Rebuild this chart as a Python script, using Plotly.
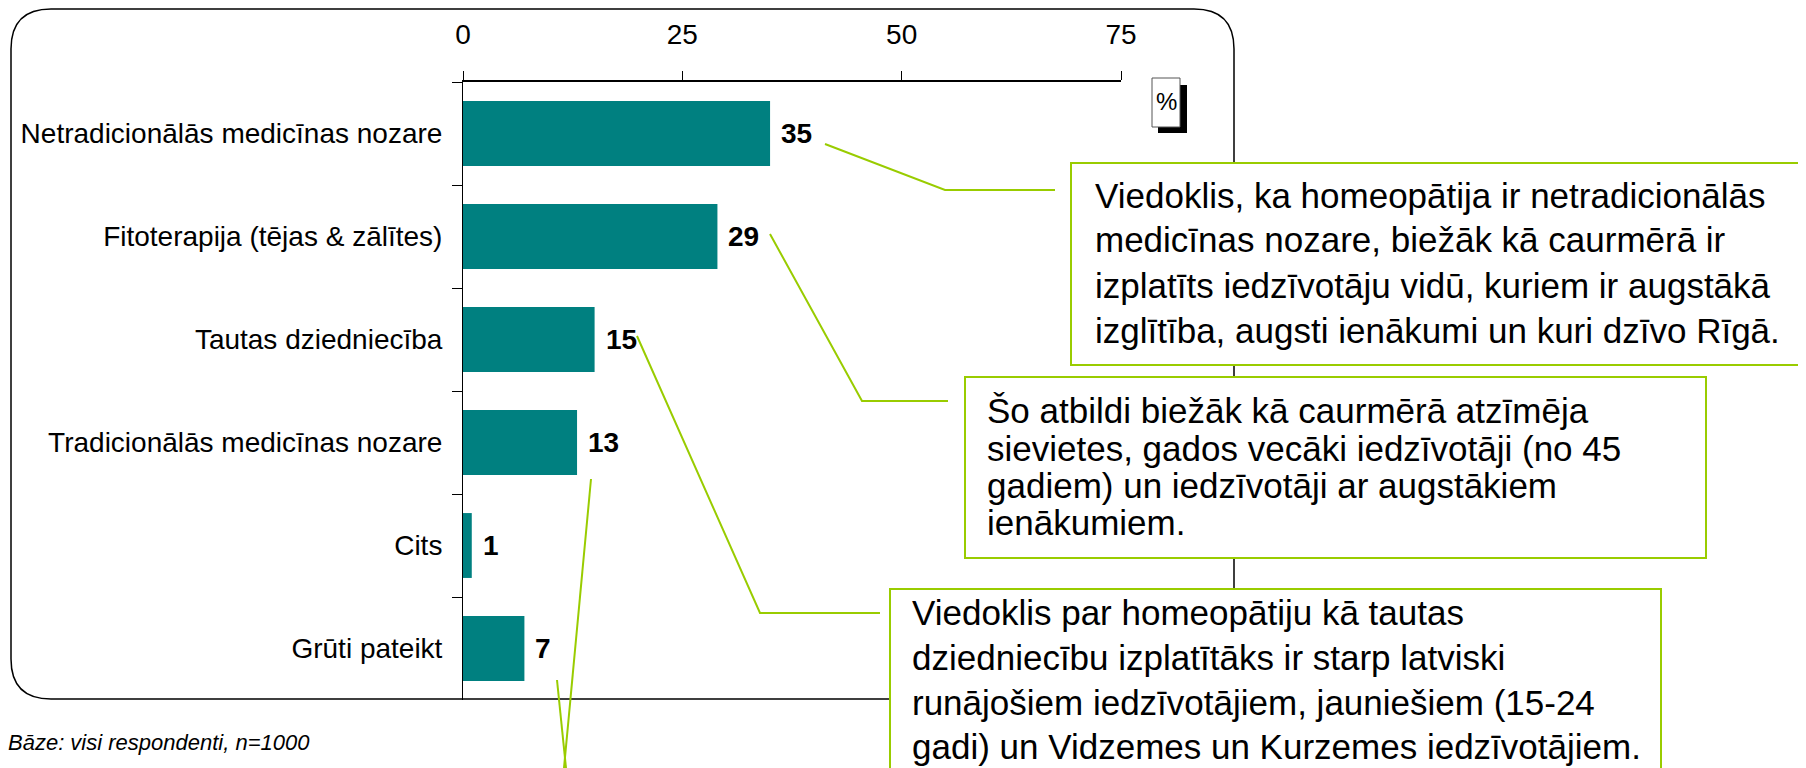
import plotly.graph_objects as go

# data
categories = [
    "Netradicionālās medicīnas nozare",
    "Fitoterapija (tējas & zālītes)",
    "Tautas dziedniecība",
    "Tradicionālās medicīnas nozare",
    "Cits",
    "Grūti pateikt",
]
values = [35, 29, 15, 13, 1, 7]
x_ticks = [0, 25, 50, 75]

note_text = "Bāze: visi respondenti, n=1000"
callout_1 = [
    "Viedoklis, ka homeopātija ir netradicionālās",
    "medicīnas nozare, biežāk kā caurmērā ir",
    "izplatīts iedzīvotāju vidū, kuriem ir augstākā",
    "izglītība, augsti ienākumi un kuri dzīvo Rīgā.",
]
callout_2 = [
    "Šo atbildi biežāk kā caurmērā atzīmēja",
    "sievietes, gados vecāki iedzīvotāji (no 45",
    "gadiem) un iedzīvotāji ar augstākiem",
    "ienākumiem.",
]
callout_3 = [
    "Viedoklis par homeopātiju kā tautas",
    "dziedniecību izplatītāks ir starp latviski",
    "runājošiem iedzīvotājiem, jauniešiem (15-24",
    "gadi) un Vidzemes un Kurzemes iedzīvotājiem.",
]

# page body has an 8px margin, so the figure is a bit smaller than the window
OFF = 8
W, H = 1806 - OFF, 768 - OFF
PL, PR, PT, PB = 463, 1121, 82, 700  # plot area in window pixels

SANS = "Liberation Sans, Arial, sans-serif"
TEAL = "#008080"
LIME = "#99CC00"


def px(x):
    return (x - PL) / (PR - PL)


def py(y):
    return (PB - y) / (PB - PT)


fig = go.Figure()
fig.add_trace(go.Bar(
    x=values, y=categories, orientation="h",
    marker=dict(color=TEAL, line=dict(width=0)),
    hoverinfo="skip", showlegend=False,
))

# value labels
for cat, val in zip(categories, values):
    fig.add_annotation(
        x=val, y=cat, xref="x", yref="y", text="<b>%d</b>" % val,
        showarrow=False, xanchor="left", xshift=9,
        font=dict(family=SANS, size=28, color="black"),
    )

shapes = []

# rounded frame
fx0, fy0, fx1, fy1, r = 11, 9, 1234, 699, 40
frame = (
    f"M {px(fx0 + r)} {py(fy0)} L {px(fx1 - r)} {py(fy0)} "
    f"Q {px(fx1)} {py(fy0)} {px(fx1)} {py(fy0 + r)} "
    f"L {px(fx1)} {py(fy1 - r)} Q {px(fx1)} {py(fy1)} {px(fx1 - r)} {py(fy1)} "
    f"L {px(fx0 + r)} {py(fy1)} Q {px(fx0)} {py(fy1)} {px(fx0)} {py(fy1 - r)} "
    f"L {px(fx0)} {py(fy0 + r)} Q {px(fx0)} {py(fy0)} {px(fx0 + r)} {py(fy0)} Z"
)
shapes.append(dict(type="path", path=frame, xref="paper", yref="paper",
                   line=dict(color="black", width=1.5), layer="below"))

# % box with shadow
shapes.append(dict(type="rect", xref="paper", yref="paper",
                   x0=px(1158), x1=px(1187), y0=py(85), y1=py(133),
                   fillcolor="black", line=dict(width=0)))
shapes.append(dict(type="rect", xref="paper", yref="paper",
                   x0=px(1152), x1=px(1180), y0=py(78), y1=py(127),
                   fillcolor="white", line=dict(color="#555555", width=1)))

# leader lines
leaders = [
    [(825, 144), (945, 190), (1055, 190)],
    [(770, 234), (862, 401), (948, 401)],
    [(637, 336), (760, 613), (880, 613)],
    [(591, 479), (564, 768)],
    [(557, 680), (566, 768)],
]
for pts in leaders:
    path = "M " + " L ".join(f"{px(a)} {py(b)}" for a, b in pts)
    shapes.append(dict(type="path", path=path, xref="paper", yref="paper",
                       line=dict(color=LIME, width=2)))

# callout boxes
boxes = [
    (1071, 163, 1804, 365, 1093, [195, 240, 285, 330], callout_1),
    (965, 377, 1706, 558, 985, [410, 448, 485, 522], callout_2),
    (890, 589, 1661, 800, 910, [612, 657, 702, 746], callout_3),
]
for bx0, by0, bx1, by1, tx, rows, lines in boxes:
    shapes.append(dict(type="rect", xref="paper", yref="paper",
                       x0=px(bx0), x1=px(bx1), y0=py(by0), y1=py(by1),
                       fillcolor="white", line=dict(color=LIME, width=2)))
    for row, line in zip(rows, lines):
        fig.add_annotation(
            x=px(tx), y=py(row), xref="paper", yref="paper", text=line,
            showarrow=False, xanchor="left", yanchor="middle",
            font=dict(family=SANS, size=35, color="black"),
        )

fig.add_annotation(
    x=px(1166), y=py(101), xref="paper", yref="paper", text="%",
    showarrow=False, xanchor="center", yanchor="middle",
    font=dict(family=SANS, size=24, color="black"),
)
fig.add_annotation(
    x=px(6), y=py(742), xref="paper", yref="paper", text="<i>" + note_text + "</i>",
    showarrow=False, xanchor="left", yanchor="middle",
    font=dict(family=SANS, size=22, color="black"),
)

fig.update_layout(
    width=W, height=H,
    margin=dict(l=PL - OFF, r=1806 - PR, t=PT - OFF, b=768 - PB, autoexpand=False),
    paper_bgcolor="white", plot_bgcolor="white",
    bargap=0.37,
    shapes=shapes,
    xaxis=dict(
        side="top", range=[0, 75], tickvals=x_ticks, automargin=False,
        showgrid=False, zeroline=False,
        showline=True, linecolor="black", linewidth=1.5,
        ticks="outside", ticklen=9, tickcolor="black", tickwidth=1,
        ticklabelstandoff=16,
        tickfont=dict(family=SANS, size=28, color="black"),
    ),
    yaxis=dict(
        autorange="reversed", tickson="boundaries", automargin=False,
        showgrid=False, zeroline=False,
        showline=True, linecolor="black", linewidth=1,
        ticks="outside", ticklen=10, tickcolor="black", tickwidth=1,
        ticklabelstandoff=14,
        tickfont=dict(family=SANS, size=28, color="black"),
    ),
)

fig.write_html("out.html")
